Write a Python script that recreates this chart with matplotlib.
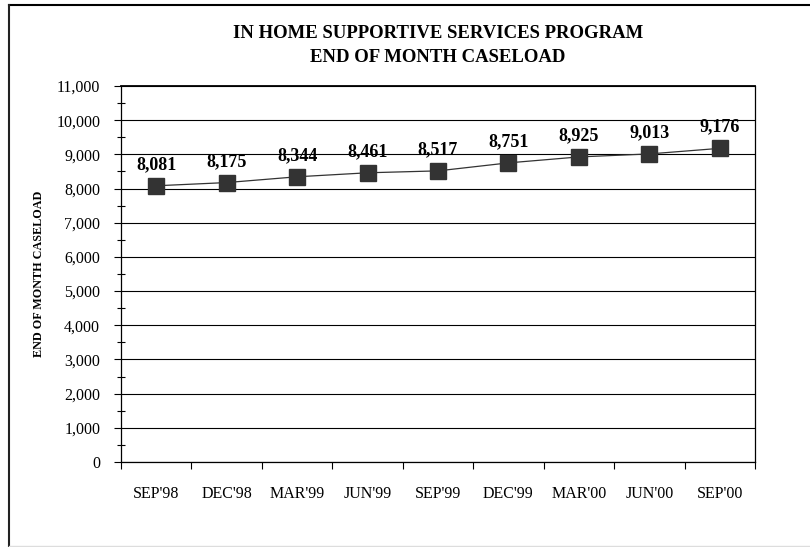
import matplotlib
matplotlib.use("Agg")
import matplotlib.pyplot as plt
from matplotlib.lines import Line2D
from matplotlib.ticker import MultipleLocator, FuncFormatter, FixedLocator

categories = ["SEP'98", "DEC'98", "MAR'99", "JUN'99", "SEP'99", "DEC'99", "MAR'00", "JUN'00", "SEP'00"]
caseload = [8081, 8175, 8344, 8461, 8517, 8751, 8925, 9013, 9176]
title_lines = ["IN HOME SUPPORTIVE SERVICES PROGRAM", "END OF MONTH CASELOAD"]
ylabel = "END OF MONTH CASELOAD"

plt.rcParams['font.family'] = ['Liberation Serif', 'DejaVu Serif']

fig = plt.figure(figsize=(8.1, 5.47), dpi=100)
ax = fig.add_axes([121/810, 1-462/547, (755-121)/810, (462-86)/547])

x = list(range(len(categories)))
ax.plot(x, caseload, color='#333333', lw=0.9, marker='s', markersize=11,
        markerfacecolor='#333333', markeredgecolor='#333333', zorder=3)
for xi, v in zip(x, caseload):
    ax.annotate(f"{v:,}", (xi, v), xytext=(0, 12), textcoords='offset points',
                ha='center', va='baseline', fontsize=13, fontweight='bold')

ax.set_xlim(-0.5, len(categories) - 0.5)
ax.set_ylim(0, 11000)
ax.yaxis.set_major_locator(MultipleLocator(1000))
ax.yaxis.set_minor_locator(MultipleLocator(500))
ax.yaxis.set_major_formatter(FuncFormatter(lambda v, p: f"{int(v):,}"))
ax.grid(axis='y', which='major', color='black', lw=0.8)
ax.set_axisbelow(True)

ax.set_xticks(x)
ax.set_xticklabels(categories)
ax.xaxis.set_minor_locator(FixedLocator([i - 0.5 for i in range(len(categories) + 1)]))
ax.tick_params(axis='x', which='major', length=0, pad=17, labelsize=11.5)
ax.tick_params(axis='x', which='minor', length=5, direction='out', width=0.8)
ax.tick_params(axis='y', which='major', length=5, direction='out', width=0.8, labelsize=11.5, pad=10)
ax.tick_params(axis='y', which='minor', length=6, direction='inout', width=0.8)

for s in ax.spines.values():
    s.set_linewidth(0.9)
ax.spines['top'].set_linewidth(1.3)

ax.set_ylabel(ylabel, fontsize=8.7, fontweight='bold', labelpad=8)

fig.text(438/810, 1-33/547, title_lines[0], ha='center', va='center', fontsize=13.5, fontweight='bold')
fig.text(438/810, 1-58/547, title_lines[1], ha='center', va='center', fontsize=13.5, fontweight='bold')

# page border
fig.add_artist(Line2D([8.5/810, 1], [1-5/547, 1-5/547], color='black', lw=1.5, transform=fig.transFigure))
fig.add_artist(Line2D([8.5/810, 8.5/810], [1-5/547, 1-546/547], color='#222222', lw=1.5, transform=fig.transFigure))
fig.add_artist(Line2D([8.5/810, 1], [1-546/547, 1-546/547], color='#dddddd', lw=1, transform=fig.transFigure))

fig.savefig("out.png", dpi=100)
